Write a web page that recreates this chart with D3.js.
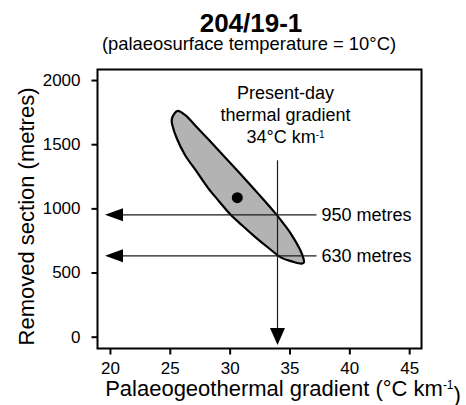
<!DOCTYPE html>
<html>
<head>
<meta charset="utf-8">
<script src="https://cdn.jsdelivr.net/npm/d3@7"></script>
<style>
  body { margin: 0; background: #fff; }
  text { font-family: "Liberation Sans", Arial, sans-serif; fill: #000; }
</style>
</head>
<body>
<script>
// Axis ticks
const xTicks = [20, 25, 30, 35, 40, 45];
const yTicks = [0, 500, 1000, 1500, 2000];

// Outline of the acceptable solution envelope (gradient °C/km, removed section m)
const envelopeGradient = [25.16, 25.35, 25.66, 26.27, 27.38, 28.78, 30.17, 31.28, 32.40, 33.79, 34.48, 35.19, 35.88, 36.16, 36.21,
                          36.02, 35.19, 34.35, 33.23, 32.12, 31.01, 30.03, 29.11, 28.22, 27.25, 26.27, 25.58, 25.21];
const envelopeSection  = [1689, 1735, 1759, 1728, 1620, 1482, 1342, 1229, 1113, 965, 884, 792, 679, 611, 580,
                          570, 587, 614, 693, 778, 870, 956, 1056, 1156, 1286, 1416, 1546, 1650];

// Best-fit estimate
const bestGradient = [30.64];
const bestSection = [1083];

// Present-day gradient and the removed-section values it implies
const presentGradient = 34;
const removedSection = [950, 630];
const removedLabels = ["950 metres", "630 metres"];

const titleText = "204/19-1";
const subtitleText = "(palaeosurface temperature = 10°C)";
const presentLines = ["Present-day", "thermal gradient"];

const W = 466, H = 405;
const svg = d3.select("body").append("svg").attr("width", W).attr("height", H);

const x = d3.scaleLinear().domain([18.96, 46.03]).range([97.5, 421.5]);
const y = d3.scaleLinear().domain([-92, 2082]).range([348.5, 69.5]);

// Titles
svg.append("text").attr("x", 251).attr("y", 32).attr("text-anchor", "middle")
  .style("font-size", "26px").style("font-weight", "bold").text(titleText);
svg.append("text").attr("x", 249).attr("y", 50).attr("text-anchor", "middle")
  .style("font-size", "18.4px").text(subtitleText);

// Envelope
const envelope = envelopeGradient.map((g, i) => [g, envelopeSection[i]]);
svg.append("path")
  .attr("d", d3.line().x(d => x(d[0])).y(d => y(d[1])).curve(d3.curveCatmullRomClosed.alpha(0.5))(envelope))
  .attr("fill", "#b3b3b3").attr("stroke", "#000").attr("stroke-width", 2.2);

// Best-fit point
svg.selectAll("circle.best").data(bestGradient).join("circle").attr("class", "best")
  .attr("cx", d => x(d)).attr("cy", (d, i) => y(bestSection[i])).attr("r", 5.5).attr("fill", "#000");

const lineColor = "#1a1a1a";

// Horizontal arrows for removed section
const labelX = x.range()[1] - 100;
const arrowTipX = x.range()[0] + 7.5;
removedSection.forEach((v, i) => {
  const yy = y(v);
  svg.append("line").attr("x1", arrowTipX + 10).attr("x2", labelX - 5)
    .attr("y1", yy).attr("y2", yy).attr("stroke", lineColor).attr("stroke-width", 1.2);
  svg.append("path")
    .attr("d", `M${arrowTipX},${yy} L${arrowTipX + 18},${yy - 6.5} L${arrowTipX + 18},${yy + 6.5} Z`)
    .attr("fill", "#000");
  svg.append("text").attr("x", labelX).attr("y", yy).attr("dy", "0.35em")
    .style("font-size", "18px").text(removedLabels[i]);
});

// Present-day gradient annotation
const px = x(presentGradient);
const textX = px + 8;
const textTop = 99.3, lineGap = 22;
presentLines.forEach((t, i) => {
  svg.append("text").attr("x", textX).attr("y", textTop + i * lineGap).attr("text-anchor", "middle")
    .style("font-size", "18px").text(t);
});
const third = svg.append("text").attr("x", textX).attr("y", textTop + 2 * lineGap).attr("text-anchor", "middle")
  .style("font-size", "18px");
third.append("tspan").text(`${presentGradient}°C km`);
third.append("tspan").attr("dy", "-0.55em").style("font-size", "10px").text("-1");

const vTop = textTop + 2 * lineGap + 17;
const vTip = y.range()[0] - 3.5;
svg.append("line").attr("x1", px).attr("x2", px).attr("y1", vTop).attr("y2", vTip - 10)
  .attr("stroke", lineColor).attr("stroke-width", 1.2);
svg.append("path")
  .attr("d", `M${px},${vTip} L${px - 7.5},${vTip - 17} L${px + 7.5},${vTip - 17} Z`)
  .attr("fill", "#000");

// Axes
const xAxis = svg.append("g").attr("transform", `translate(0,${y.range()[0]})`)
  .call(d3.axisBottom(x).tickValues(xTicks).tickFormat(d3.format("d"))
    .tickSize(6).tickSizeOuter(0).tickPadding(7));
const yAxis = svg.append("g").attr("transform", `translate(${x.range()[0]},0)`)
  .call(d3.axisLeft(y).tickValues(yTicks).tickFormat(d3.format("d"))
    .tickSize(6).tickSizeOuter(0).tickPadding(11));
[xAxis, yAxis].forEach(g => {
  g.select(".domain").remove();
  g.selectAll(".tick line").attr("stroke", "#000").attr("stroke-width", 2);
  g.selectAll(".tick text").style("font-size", "17px").attr("fill", "#000")
    .style("font-family", '"Liberation Sans", Arial, sans-serif');
});

// Frame
svg.append("rect").attr("x", x.range()[0]).attr("y", y.range()[1])
  .attr("width", x.range()[1] - x.range()[0]).attr("height", y.range()[0] - y.range()[1])
  .attr("fill", "none").attr("stroke", "#000").attr("stroke-width", 2);

// Axis titles
const xl = svg.append("text").attr("x", 283).attr("y", 396).attr("text-anchor", "middle")
  .style("font-size", "22px");
xl.append("tspan").text("Palaeogeothermal gradient (°C km");
xl.append("tspan").attr("dy", "-0.55em").style("font-size", "12px").text("-1");
xl.append("tspan").attr("dy", "0.55em").text(")");

svg.append("text").attr("transform", "translate(34,216.5) rotate(-90)").attr("text-anchor", "middle")
  .style("font-size", "22px").text("Removed section (metres)");
</script>
</body>
</html>
